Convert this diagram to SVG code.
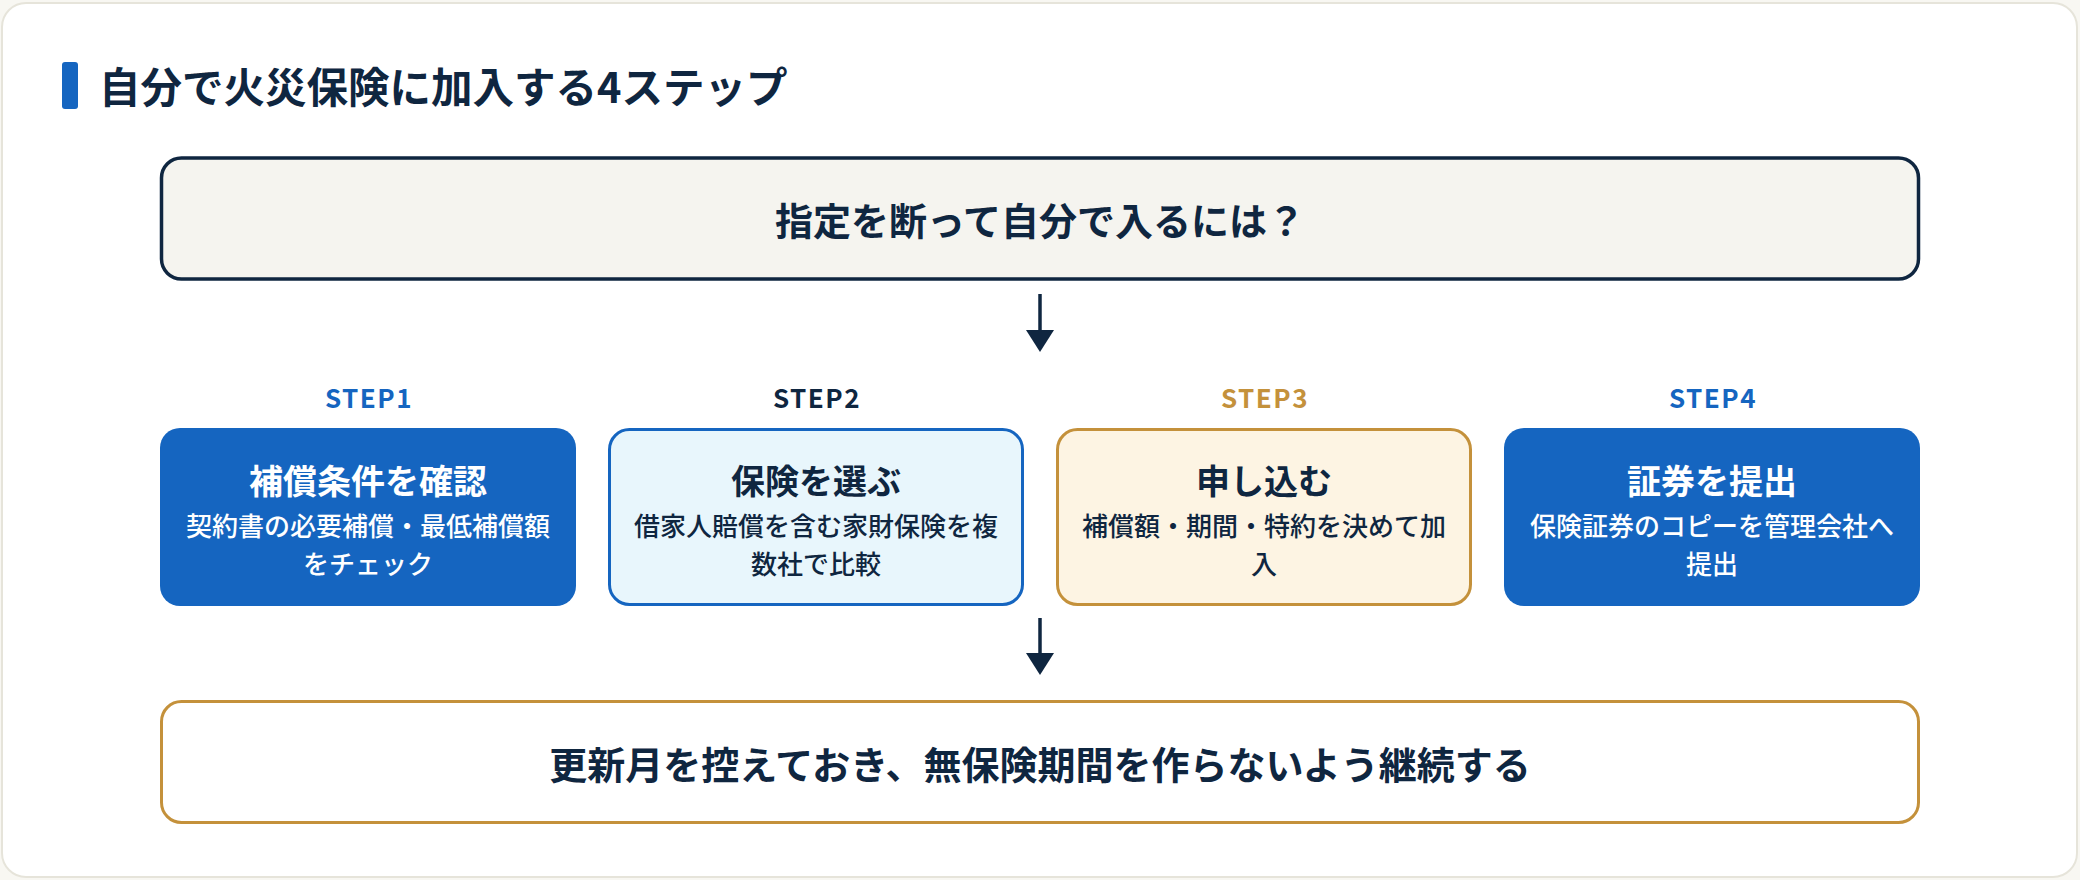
<svg xmlns="http://www.w3.org/2000/svg" width="2080" height="880" viewBox="0 0 2080 880">
<defs>
<style>
text{font-family:"Noto Sans CJK JP","Noto Sans CJK SC",sans-serif;text-anchor:middle}
.ttl{font-size:41.5px;font-weight:700;fill:#0f2640;text-anchor:start}
.big{font-size:38px;font-weight:700;fill:#0f2640}
.step{font-size:26px;font-weight:700;letter-spacing:1.5px}
.bt{font-size:34px;font-weight:700}
.bd{font-size:26px;font-weight:500}
.w{fill:#ffffff}
.n{fill:#0f2640}
.conn{stroke:#0f2640;stroke-width:3.5;fill:none}
.head{fill:#0f2640}
</style>
</defs>
<rect x="0" y="0" width="2080" height="880" fill="#f8f7f2"/>
<rect x="2" y="3" width="2075" height="874" rx="24" fill="#ffffff" stroke="#e6e4da" stroke-width="2"/>
<g id="title">
<rect x="62" y="62" width="16" height="47" rx="3" fill="#1565c0"/>
<text class="ttl" x="99" y="103">自分で火災保険に加入する4ステップ</text>
</g>
<g id="question">
<rect x="161.5" y="158" width="1757" height="121" rx="20" fill="#f5f4ef" stroke="#0f2640" stroke-width="3.5"/>
<text class="big" x="1040" y="235">指定を断って自分で入るには？</text>
</g>
<g id="connectors">
<line class="conn" x1="1040" y1="294" x2="1040" y2="333"/>
<polygon class="head" points="1026,330 1054,330 1040,352"/>
<line class="conn" x1="1040" y1="618" x2="1040" y2="656"/>
<polygon class="head" points="1026,653 1054,653 1040,675"/>
</g>
<g id="step1">
<text class="step" x="369" y="408" fill="#1565c0">STEP1</text>
<rect x="160" y="428" width="416" height="178" rx="20" fill="#1565c0"/>
<text class="bt w" x="368" y="494">補償条件を確認</text>
<text class="bd w" x="368" y="536">契約書の必要補償・最低補償額</text>
<text class="bd w" x="368" y="574">をチェック</text>
</g>
<g id="step2">
<text class="step" x="817" y="408" fill="#0f2640">STEP2</text>
<rect x="609.5" y="429.5" width="413" height="175" rx="20" fill="#e8f6fc" stroke="#1565c0" stroke-width="3"/>
<text class="bt n" x="816" y="494">保険を選ぶ</text>
<text class="bd n" x="816" y="536">借家人賠償を含む家財保険を複</text>
<text class="bd n" x="816" y="574">数社で比較</text>
</g>
<g id="step3">
<text class="step" x="1265" y="408" fill="#c4913b">STEP3</text>
<rect x="1057.5" y="429.5" width="413" height="175" rx="20" fill="#fdf4e3" stroke="#c4913b" stroke-width="3"/>
<text class="bt n" x="1264" y="494">申し込む</text>
<text class="bd n" x="1264" y="536">補償額・期間・特約を決めて加</text>
<text class="bd n" x="1264" y="574">入</text>
</g>
<g id="step4">
<text class="step" x="1713" y="408" fill="#1565c0">STEP4</text>
<rect x="1504" y="428" width="416" height="178" rx="20" fill="#1565c0"/>
<text class="bt w" x="1712" y="494">証券を提出</text>
<text class="bd w" x="1712" y="536">保険証券のコピーを管理会社へ</text>
<text class="bd w" x="1712" y="574">提出</text>
</g>
<g id="result">
<rect x="161.5" y="701.5" width="1757" height="121" rx="20" fill="#ffffff" stroke="#c4913b" stroke-width="3"/>
<text class="big" x="1040" y="779">更新月を控えておき、無保険期間を作らないよう継続する</text>
</g>
</svg>
